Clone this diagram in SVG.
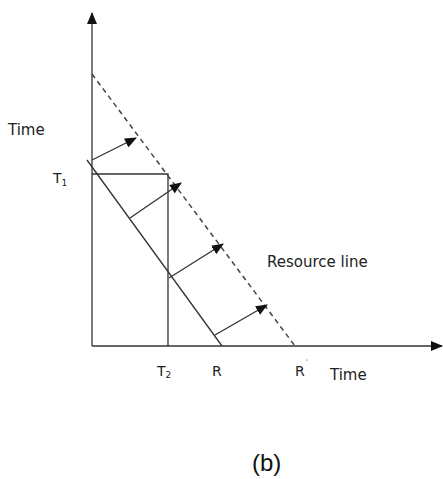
<svg xmlns="http://www.w3.org/2000/svg" width="443" height="479" viewBox="0 0 443 479">
<style>
.ln{stroke:#333;stroke-width:1.3;fill:none}
.dash{stroke:#444;stroke-width:1.5;stroke-dasharray:5,4;fill:none}
.t{font-family:"DejaVu Sans",Verdana,sans-serif;font-size:15px;fill:#222}
.s{font-family:"DejaVu Sans",Verdana,sans-serif;font-size:14px;fill:#222}
.b{font-family:"Liberation Sans",Arial,sans-serif;font-size:24px;fill:#111}
</style>
<defs>
<marker id="ah" markerWidth="12" markerHeight="10" refX="11" refY="5" orient="auto" markerUnits="userSpaceOnUse">
<path d="M0,0 L12,5 L0,10 Z" fill="#111"/>
</marker>
</defs>
<g id="axes">
<line class="ln" x1="92" y1="346" x2="92" y2="13" marker-end="url(#ah)"/>
<line class="ln" x1="92" y1="346" x2="442" y2="346" marker-end="url(#ah)"/>
</g>
<g id="rect">
<polyline class="ln" points="92,174 168,174 168,346"/>
</g>
<g id="lines">
<line class="ln" x1="87" y1="160" x2="222" y2="346"/>
<line class="dash" x1="92" y1="74" x2="295" y2="346"/>
</g>
<g id="connectors">
<line class="ln" x1="92" y1="160" x2="136" y2="138" marker-end="url(#ah)"/>
<line class="ln" x1="130" y1="218" x2="181" y2="183" marker-end="url(#ah)"/>
<line class="ln" x1="169" y1="278" x2="223" y2="244" marker-end="url(#ah)"/>
<line class="ln" x1="215" y1="335" x2="267" y2="305" marker-end="url(#ah)"/>
</g>
<g id="labels">
<text class="t" x="8" y="135">Time</text>
<text class="s" x="53" y="183">T<tspan font-size="9" dy="3">1</tspan></text>
<text class="s" x="157" y="376">T<tspan font-size="9" dy="2">2</tspan></text>
<text class="s" x="212" y="376">R</text>
<text class="s" x="295" y="376">R</text>
<circle cx="307" cy="360" r="0.6" fill="#333"/>
<text class="t" x="330" y="380">Time</text>
<text class="t" x="267" y="267">Resource line</text>
<text class="b" x="252" y="471">(b)</text>
</g>
</svg>
